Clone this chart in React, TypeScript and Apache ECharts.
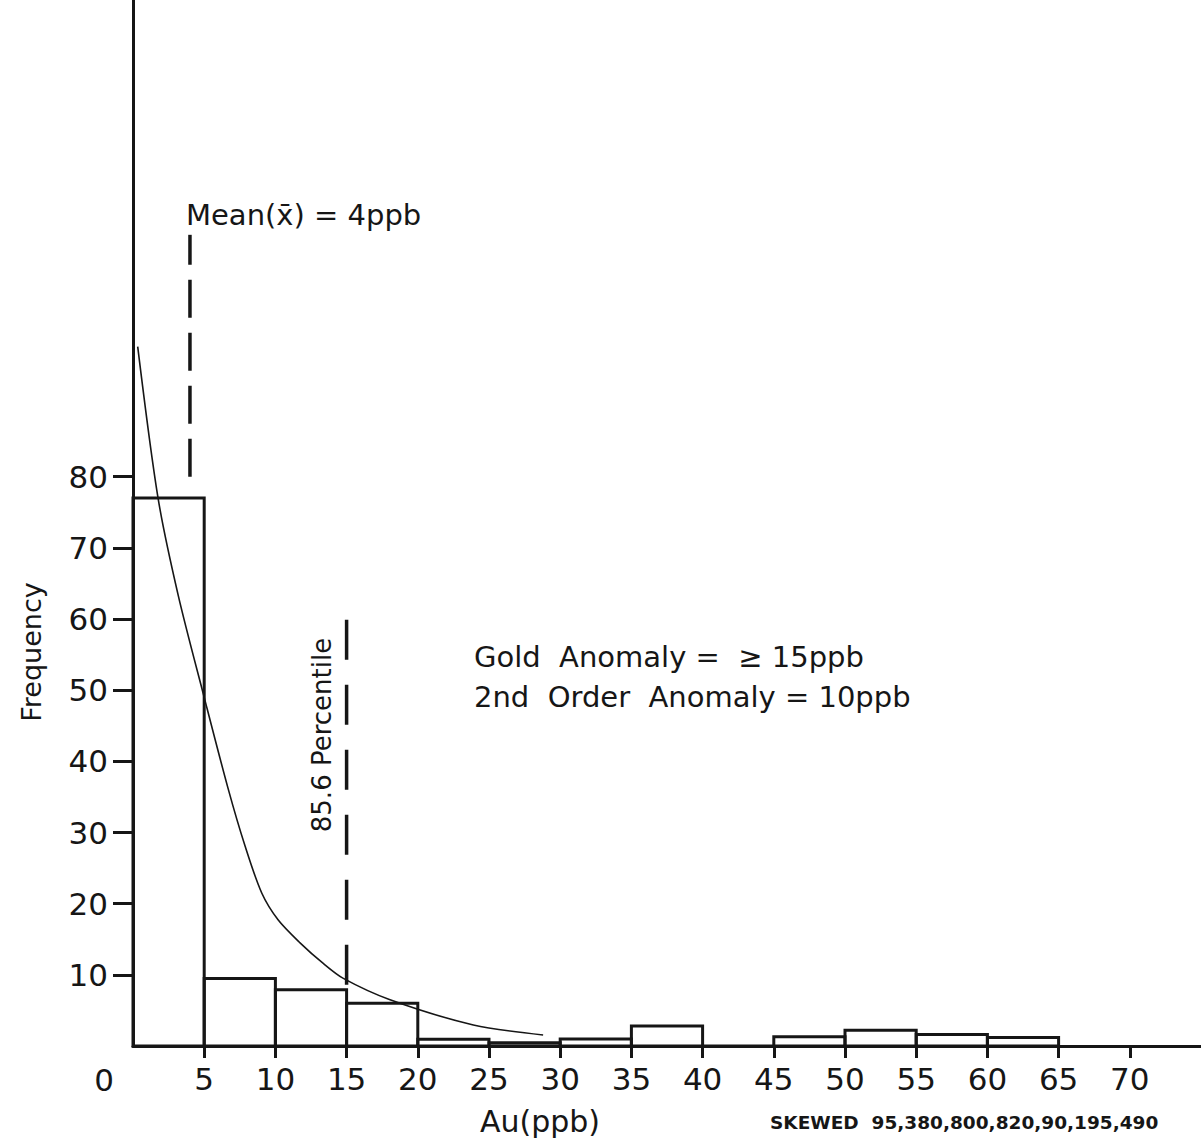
import React, { useEffect, useRef } from "react";
import * as echarts from "echarts";

// Histogram bins (Au, ppb) and frequencies
const binStarts = [0, 5, 10, 15, 20, 25, 30, 35, 40, 45, 50, 55, 60];
const binEnds = [5, 10, 15, 20, 25, 30, 35, 40, 45, 50, 55, 60, 65];
const binCounts = [77, 9.5, 7.9, 6.0, 0.95, 0.45, 1.0, 2.8, 0, 1.3, 2.2, 1.6, 1.2];

// Fitted curve
const curveX = [0.33, 1.76, 3.18, 5.0, 6.69, 7.87, 9.04, 10.2, 11.73, 13.36, 14.77, 18.05, 23.9, 28.8];
const curveY = [98.3, 77, 63.3, 49, 36.1, 28.1, 21.5, 17.7, 14.5, 11.6, 9.5, 6.5, 2.96, 1.55];

// Axis ticks
const xTickValues = [5, 10, 15, 20, 25, 30, 35, 40, 45, 50, 55, 60, 65, 70];
const yTickValues = [10, 20, 30, 40, 50, 60, 70, 80];

// Reference lines
const meanValue = 4;
const meanLineRange = [80, 114];
const percentileValue = 15;
const percentileLineRange = [8.6, 62.5];

const skewedValues = [95, 380, 800, 820, 90, 195, 490];

const INK = "#161616";
const FONT = "DejaVu Sans";

export default function App() {
  const ref = useRef<HTMLDivElement>(null);

  useEffect(() => {
    if (!ref.current) return;
    const chart = echarts.init(ref.current, null, { renderer: "svg" });

    const histData = binStarts.map((s, i) => [s, binEnds[i], binCounts[i]]);
    const curveData = curveX.map((x, i) => [x, curveY[i]]);

    const txt = (text: string, x: number, y: number, size: number, extra: any = {}) => ({
      type: "text",
      x,
      y,
      rotation: extra.rotation || 0,
      style: {
        text,
        font: `${extra.weight || "normal"} ${size}px "${extra.family || FONT}"`,
        fill: INK,
        align: extra.align || "left",
        textAlign: extra.align || "left",
        verticalAlign: "middle",
        textVerticalAlign: "middle",
      },
      z: 10,
    });

    const option: any = {
      animation: false,
      backgroundColor: "#ffffff",
      grid: {
        left: 133,
        top: 0,
        right: 0,
        bottom: 94,
        containLabel: false,
        outerBoundsMode: "none",
      },
      xAxis: {
        type: "value",
        min: 0,
        max: 75,
        interval: 5,
        splitLine: { show: false },
        axisLine: { show: true, onZero: false, lineStyle: { color: INK, width: 3 } },
        axisTick: {
          show: true,
          customValues: xTickValues,
          length: 12,
          lineStyle: { color: INK, width: 3 },
        },
        axisLabel: {
          show: true,
          customValues: xTickValues,
          margin: 17,
          color: INK,
          fontFamily: FONT,
          fontSize: 31,
        },
      },
      yAxis: {
        type: "value",
        min: 0,
        max: 147,
        interval: 10,
        splitLine: { show: false },
        axisLine: { show: true, onZero: false, lineStyle: { color: INK, width: 3 } },
        axisTick: {
          show: true,
          customValues: yTickValues,
          length: 20,
          lineStyle: { color: INK, width: 3 },
        },
        axisLabel: {
          show: true,
          customValues: yTickValues,
          margin: 25,
          color: INK,
          fontFamily: FONT,
          fontSize: 31,
        },
      },
      series: [
        {
          type: "custom",
          name: "Histogram",
          data: histData,
          encode: { x: [0, 1], y: 2 },
          renderItem: (params: any, api: any) => {
            const p0 = api.coord([api.value(0), api.value(2)]);
            const p1 = api.coord([api.value(1), 0]);
            return {
              type: "rect",
              shape: { x: p0[0], y: p0[1], width: p1[0] - p0[0], height: p1[1] - p0[1] },
              style: { fill: "none", stroke: INK, lineWidth: 3 },
            };
          },
          z: 3,
        },
        {
          type: "line",
          name: "Curve",
          data: curveData,
          smooth: 0.3,
          showSymbol: false,
          symbol: "none",
          lineStyle: { color: INK, width: 1.6 },
          z: 4,
        },
        {
          type: "line",
          name: "Mean",
          data: meanLineRange.map((v) => [meanValue, v]),
          showSymbol: false,
          symbol: "none",
          lineStyle: { color: INK, width: 3.5, type: [38, 15], cap: "butt" },
          z: 4,
        },
        {
          type: "line",
          name: "Percentile",
          data: percentileLineRange.map((v) => [percentileValue, v]),
          showSymbol: false,
          symbol: "none",
          lineStyle: { color: INK, width: 3.5, type: [40, 25], cap: "butt" },
          z: 4,
        },
      ],
      graphic: [
        txt("Mean(x\u0304) = " + meanValue + "ppb", 186, 215, 29),
        txt("Gold  Anomaly =  \u2265 " + percentileValue + "ppb", 474, 657, 29),
        txt("2nd  Order  Anomaly = 10ppb", 474, 697, 29),
        txt("85.6 Percentile", 322, 735, 26, { align: "center", rotation: Math.PI / 2 }),
        txt("Frequency", 31, 652, 27, { align: "center", rotation: Math.PI / 2 }),
        txt("0", 104, 1080, 31, { align: "center" }),
        txt("Au(ppb)", 540, 1121, 30, { align: "center" }),
        txt("SKEWED  " + skewedValues.join(","), 770, 1122, 18.5, { weight: "bold" }),
      ],
    };

    chart.setOption(option);
    return () => chart.dispose();
  }, []);

  return (
    <div
      ref={ref}
      style={{ position: "absolute", left: 0, top: 0, width: 1201, height: 1140, background: "#fff" }}
    />
  );
}
